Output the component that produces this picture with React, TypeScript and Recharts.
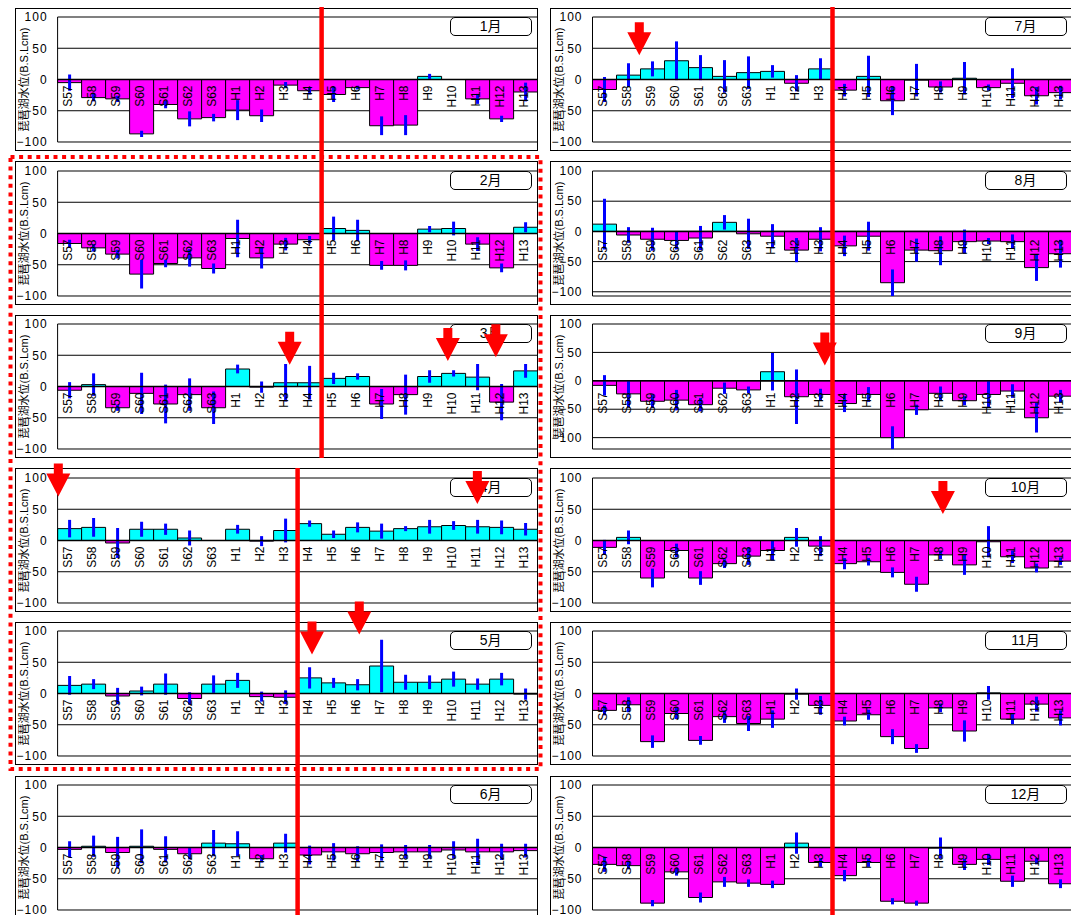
import React from "react";
import { Bar, BarChart, CartesianGrid, Cell, ErrorBar, ReferenceLine, XAxis, YAxis } from "recharts";

// 琵琶湖水位 月別平均 (B.S.L cm)  S57〜H13
const years = ["S57", "S58", "S59", "S60", "S61", "S62", "S63", "H1", "H2", "H3", "H4", "H5", "H6", "H7", "H8", "H9", "H10", "H11", "H12", "H13"];
const monthNames = ["1月", "2月", "3月", "4月", "5月", "6月", "7月", "8月", "9月", "10月", "11月", "12月"];
const yTicks = [-100, -50, 0, 50, 100];

const jan = [-5, -29, -31, -87, -40, -63, -61, -49, -58, -9, -18, -24, -13, -74, -73, 5, 0, -31, -63, -20];
const janErr = [13, 6, 5, 5, 6, 12, 6, 16, 10, 5, 6, 12, 3, 15, 16, 4, 16, 8, 5, 15];
const feb = [-16, -23, -33, -65, -48, -39, -56, -8, -39, -17, -10, 8, 5, -51, -51, 7, 8, -17, -55, 10];
const febErr = [6, 6, 7, 23, 6, 14, 8, 30, 17, 10, 6, 19, 17, 7, 8, 5, 11, 11, 7, 8];
const mar = [-6, 3, -34, -11, -28, -13, -34, 28, -1, 6, 6, 13, 16, -28, -13, 16, 21, 15, -25, 25];
const marErr = [13, 18, 5, 33, 31, 26, 26, 7, 9, 30, 27, 9, 5, 24, 32, 10, 5, 21, 29, 11];
const apr = [19, 21, -4, 18, 18, 4, 0, 18, -1, 16, 27, 10, 21, 15, 19, 22, 24, 22, 21, 18];
const aprErr = [14, 15, 24, 12, 9, 12, 8, 7, 8, 19, 5, 6, 8, 12, 4, 11, 7, 11, 11, 10];
const may = [13, 15, -4, 4, 15, -8, 15, 21, -5, -6, 25, 17, 14, 44, 18, 18, 23, 15, 23, -1];
const mayErr = [15, 8, 13, 7, 17, 10, 14, 12, 8, 11, 17, 8, 9, 42, 12, 11, 12, 9, 10, 9];
const jun = [-3, 2, -8, 2, -3, -10, 7, 6, -18, 7, -12, -7, -10, -8, -7, -7, -4, -7, -7, -5];
const junErr = [13, 17, 25, 27, 21, 9, 21, 20, 6, 15, 15, 14, 12, 13, 11, 11, 14, 21, 13, 11];
const jul = [-16, 7, 17, 30, 19, 5, 11, 13, -6, 17, -17, 5, -34, -1, -12, 2, -13, -6, -26, -21];
const julErr = [20, 19, 12, 31, 20, 26, 26, 10, 13, 17, 10, 33, 23, 26, 9, 26, 5, 24, 14, 11];
const aug = [12, -6, -13, -15, -11, 15, -4, -8, -31, -13, -24, -8, -85, -31, -32, -17, -16, -17, -60, -37];
const augErr = [42, 13, 19, 15, 20, 12, 25, 20, 20, 20, 17, 24, 22, 19, 24, 20, 5, 12, 22, 23];
const sep = [-8, -23, -36, -34, -42, -13, -16, 16, -28, -24, -40, -24, -100, -51, -22, -35, -24, -18, -65, -27];
const sepErr = [18, 24, 12, 18, 12, 10, 6, 33, 48, 10, 15, 13, 20, 9, 12, 8, 24, 12, 26, 11];
const oct = [-11, 5, -60, -16, -60, -37, -25, -16, 5, -9, -37, -34, -51, -70, -23, -39, -2, -26, -44, -33];
const octErr = [12, 11, 15, 11, 11, 7, 14, 16, 15, 16, 9, 6, 8, 12, 7, 16, 25, 10, 7, 6];
const nov = [-27, -18, -77, -32, -75, -37, -48, -41, -1, -19, -44, -34, -69, -88, -23, -60, 1, -41, -17, -39];
const novErr = [8, 12, 10, 9, 7, 10, 12, 14, 9, 15, 7, 8, 12, 7, 7, 17, 11, 8, 12, 12];
const dec = [-27, -29, -89, -39, -80, -55, -57, -59, 7, -24, -45, -24, -86, -89, -1, -27, -19, -54, -22, -58];
const decErr = [12, 6, 5, 6, 8, 8, 6, 6, 17, 7, 9, 7, 5, 4, 17, 9, 9, 9, 5, 7];

const levels = [jan, feb, mar, apr, may, jun, jul, aug, sep, oct, nov, dec];
const ranges = [janErr, febErr, marErr, aprErr, mayErr, junErr, julErr, augErr, sepErr, octErr, novErr, decErr];

// 赤矢印: 月, 棒位置(何本目), 先端の水位
const arrowMonths = [7, 3, 3, 3, 9, 4, 4, 10, 5, 5];
const arrowSlots = [1.95, 9.67, 16.26, 18.26, 9.68, 0.03, 17.49, 14.6, 10.6, 12.57];
const arrowTips = [39, 35, 41, 47, 34, 70, 58, 42, 63, 95];

const FONT = '"Liberation Sans", Arial, "Noto Sans CJK JP", sans-serif';
const MAGENTA = "#ff00ff";
const CYAN = "#00ffff";
const RED = "#ff0000";

const PLOT_W = 480;
const PLOT_H = 125;
const BAND = PLOT_W / years.length;
const TOP_PAD = 10;
const BOTTOM_PAD = 8;
const ROW_STEP = 153.6;
const PANEL_X = [15, 550];
const PLOT_X = [57.6, 592.5];
const PANEL_RIGHT = [538, 1080];

const plotTop = (row: number) => 17 + ROW_STEP * row;
const yPix = (row: number, v: number) => plotTop(row) + ((100 - v) / 200) * PLOT_H;

function YearTick(props: any) {
  const { x, y, payload } = props;
  const zeroY = y - PLOT_H / 2;
  return (
    <text
      transform={`translate(${x - 2},${zeroY + 6}) rotate(-90)`}
      textAnchor="end"
      dy="0.35em"
      fontSize={12}
      fontFamily={FONT}
      fill="#000"
    >
      {payload.value}
    </text>
  );
}

function MonthPanel({ index }: { index: number }) {
  const col = index < 6 ? 0 : 1;
  const row = index % 6;
  const top = plotTop(row);
  const axisW = PLOT_X[col] - PANEL_X[col];
  const data = years.map((year, i) => ({ year, level: levels[index][i], err: ranges[index][i] }));

  return (
    <>
      <div
        style={{
          position: "absolute",
          left: PANEL_X[col],
          top: top - 9.5,
          width: PANEL_RIGHT[col] - PANEL_X[col],
          height: PLOT_H + 18.5,
          border: "1.5px solid #000",
          boxSizing: "border-box",
          background: "#fff",
        }}
      />
      <div style={{ position: "absolute", left: PANEL_X[col], top: top - TOP_PAD }}>
        <BarChart
          width={axisW + PLOT_W}
          height={TOP_PAD + PLOT_H + 1 + BOTTOM_PAD}
          data={data}
          margin={{ top: TOP_PAD, right: 0, bottom: BOTTOM_PAD, left: 0 }}
          barCategoryGap={0}
          barGap={0}
        >
          <CartesianGrid vertical={false} stroke="#000" strokeWidth={1} />
          <YAxis
            domain={[-100, 100]}
            ticks={yTicks}
            width={axisW}
            axisLine={{ stroke: "#000" }}
            tickLine={false}
            tickSize={0}
            tickMargin={10}
            tick={{ fontSize: 12, fill: "#000", fontFamily: FONT, letterSpacing: 1 }}
            tickFormatter={(v: number) => (v < 0 ? `\u2212${-v}` : `${v}`)}
            label={() => (
              <text
                transform={`translate(9,${TOP_PAD + PLOT_H / 2}) rotate(-90)`}
                textAnchor="middle"
                dy="0.35em"
                fontSize={11}
                fontFamily={FONT}
                fill="#000"
              >
                琵琶湖水位(B.S.Lcm)
              </text>
            )}
          />
          <XAxis
            dataKey="year"
            interval={0}
            height={1}
            axisLine={false}
            tickLine={false}
            tickSize={0}
            tickMargin={0}
            tick={(p: any) => <YearTick {...p} />}
          />
          <Bar dataKey="level" isAnimationActive={false} stroke="#000" strokeWidth={1}>
            {data.map((d, i) => (
              <Cell key={i} fill={d.level >= 0 ? CYAN : MAGENTA} />
            ))}
            <ErrorBar dataKey="err" width={0} stroke="#0000ff" strokeWidth={3} direction="y" />
          </Bar>
          <ReferenceLine y={0} stroke="#000" strokeWidth={1.5} />
        </BarChart>
      </div>
      <div
        style={{
          position: "absolute",
          left: PLOT_X[col] + 392,
          top: top,
          width: 82,
          height: 19,
          border: "1.5px solid #000",
          borderRadius: 5,
          boxSizing: "border-box",
          background: "#fff",
          fontFamily: FONT,
          fontSize: 14,
          lineHeight: "16px",
          textAlign: "center",
          color: "#000",
        }}
      >
        {monthNames[index]}
      </div>
    </>
  );
}

function Arrow({ x, y }: { x: number; y: number }) {
  const pts = [
    [x - 4.5, y - 33],
    [x + 4.5, y - 33],
    [x + 4.5, y - 23],
    [x + 12, y - 23],
    [x, y],
    [x - 12, y - 23],
    [x - 4.5, y - 23],
  ]
    .map((p) => p.join(","))
    .join(" ");
  return <polygon points={pts} fill={RED} />;
}

export default function App() {
  return (
    <div
      style={{
        position: "absolute",
        left: 0,
        top: 0,
        width: 1071,
        height: 915,
        overflow: "hidden",
        background: "#fff",
      }}
    >
      {monthNames.map((_, i) => (
        <MonthPanel key={i} index={i} />
      ))}
      <svg width={1071} height={915} style={{ position: "absolute", left: 0, top: 0, pointerEvents: "none" }}>
        <rect x={10.5} y={157} width={530} height={612} fill="none" stroke={RED} strokeWidth={4} strokeDasharray="4 4.6" />
        <line x1={PLOT_X[0] + 11 * BAND} x2={PLOT_X[0] + 11 * BAND} y1={7} y2={458} stroke={RED} strokeWidth={4.5} />
        <line x1={PLOT_X[0] + 10 * BAND} x2={PLOT_X[0] + 10 * BAND} y1={468} y2={915} stroke={RED} strokeWidth={4.5} />
        <line x1={PLOT_X[1] + 10 * BAND} x2={PLOT_X[1] + 10 * BAND} y1={7} y2={915} stroke={RED} strokeWidth={4.5} />
        {arrowMonths.map((m, i) => {
          const col = m <= 6 ? 0 : 1;
          const row = (m - 1) % 6;
          return <Arrow key={i} x={PLOT_X[col] + arrowSlots[i] * BAND} y={yPix(row, arrowTips[i])} />;
        })}
      </svg>
    </div>
  );
}
